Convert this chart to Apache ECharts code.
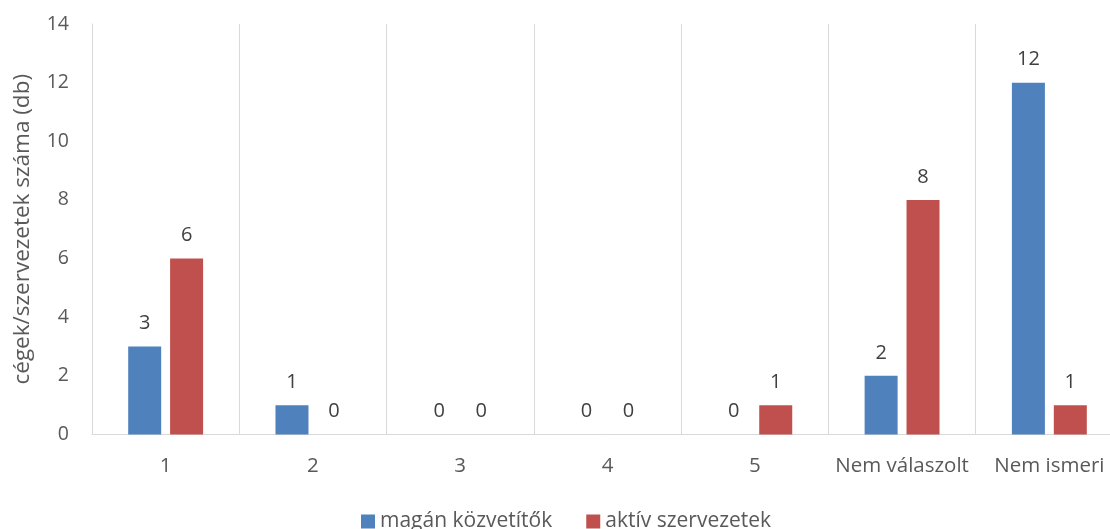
<!DOCTYPE html>
<html>
<head>
<meta charset="utf-8">
<script src="https://cdn.jsdelivr.net/npm/echarts@6/dist/echarts.min.js"></script>
<style>
  html, body { margin: 0; padding: 0; background: #fff; }
  #chart { width: 1110px; height: 529px; }
</style>
</head>
<body>
<div id="chart"></div>
<script>
// adatok
var categories = ['1', '2', '3', '4', '5', 'Nem válaszolt', 'Nem ismeri'];
var maganKozvetitok = [3, 1, 0, 0, 0, 2, 12];
var aktivSzervezetek = [6, 0, 0, 0, 1, 8, 1];
var seriesNames = ['magán közvetítők', 'aktív szervezetek'];

var font = '"Open Sans", sans-serif';
var textColor = '#595959';

var chart = echarts.init(document.getElementById('chart'));

function barSeries(name, data, color) {
  return {
    name: name,
    type: 'bar',
    data: data,
    barWidth: 33,
    barGap: '27%',
    itemStyle: { color: color },
    label: {
      show: true,
      position: 'top',
      distance: 13,
      color: '#404040',
      fontFamily: font,
      fontSize: 20
    }
  };
}

var option = {
  animation: false,
  grid: { left: 92, width: 1031, top: 24, bottom: 94.5, outerBoundsMode: 'none' },
  legend: {
    top: 506,
    left: 356,
    itemWidth: 14,
    itemHeight: 14,
    itemGap: 34,
    itemStyle: { borderWidth: 0 },
    icon: 'rect',
    textStyle: { color: textColor, fontFamily: font, fontSize: 21 },
    data: seriesNames
  },
  xAxis: {
    type: 'category',
    data: categories,
    axisLine: { lineStyle: { color: '#d9d9d9', width: 1 } },
    axisTick: { show: false },
    axisLabel: { color: textColor, fontFamily: font, fontSize: 20.5, margin: 21, interval: 0 },
    splitLine: { show: true, interval: 0, lineStyle: { color: '#d9d9d9', width: 1 } }
  },
  yAxis: {
    type: 'value',
    min: 0,
    max: 14,
    interval: 2,
    name: 'cégek/szervezetek száma (db)',
    nameLocation: 'middle',
    nameGap: 58,
    nameTextStyle: { color: textColor, fontFamily: font, fontSize: 22.5 },
    axisLine: { show: true, lineStyle: { color: '#d9d9d9', width: 1 } },
    axisTick: { show: false },
    axisLabel: { color: textColor, fontFamily: font, fontSize: 19.5, margin: 23 },
    splitLine: { show: false }
  },
  series: [
    barSeries(seriesNames[0], maganKozvetitok, '#4F81BD'),
    barSeries(seriesNames[1], aktivSzervezetek, '#C0504D')
  ]
};
chart.setOption(option);
</script>
</body>
</html>
